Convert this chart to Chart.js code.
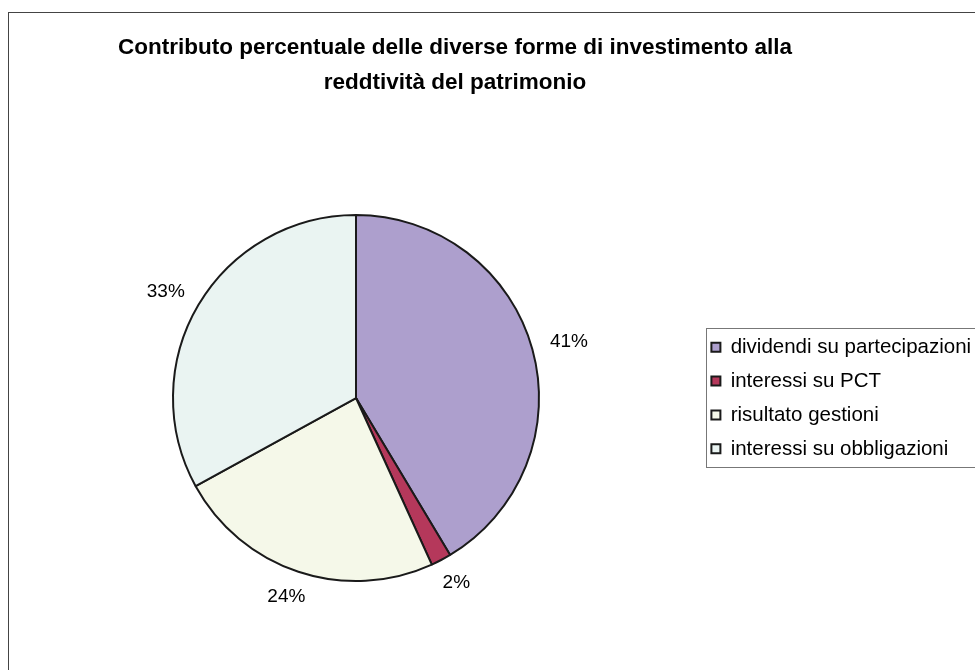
<!DOCTYPE html>
<html>
<head>
<meta charset="utf-8">
<script src="https://cdn.jsdelivr.net/npm/chart.js@4.4.0/dist/chart.umd.min.js"></script>
<style>
html, body { margin: 0; padding: 0; background: #fff; overflow: hidden; }
#frame { position: absolute; left: 8px; top: 12px; width: 1000px; height: 700px; border-left: 1px solid #444; border-top: 1px solid #444; }
#myCanvas { position: absolute; left: 0; top: 0; }
</style>
</head>
<body>
<div id="frame"></div>
<canvas id="myCanvas" width="975" height="670"></canvas>
<script>
// chart data
var categories = ['dividendi su partecipazioni', 'interessi su PCT', 'risultato gestioni', 'interessi su obbligazioni'];
var values = [41.4, 1.8, 23.8, 33.0];
var slice_colors = ['#ad9fcd', '#b5385b', '#f5f8e9', '#eaf4f2'];
var title_lines = ['Contributo percentuale delle diverse forme di investimento alla', 'reddtività del patrimonio'];

var font_family = '"Liberation Sans", Arial, Helvetica, sans-serif';

// percentage labels outside the slices, plus the frame round the legend
var pieExtras = {
    id: 'pieExtras',
    afterLayout: function(chart) {
        // legend text runs past the right edge, like the original, so don't clip it
        chart.legend.right = chart.width + 40;
    },
    afterDatasetsDraw: function(chart) {
        var ctx = chart.ctx;
        var meta = chart.getDatasetMeta(0);
        var total = values.reduce(function(a, b) { return a + b }, 0);
        ctx.save();
        ctx.font = '19px ' + font_family;
        ctx.fillStyle = '#000';
        ctx.textBaseline = 'middle';
        ctx.textAlign = 'center';
        meta.data.forEach(function(arc, i) {
            var mid = (arc.startAngle + arc.endAngle) / 2;
            var c = Math.cos(mid);
            var s = Math.sin(mid);
            var txt = Math.round(values[i] / total * 100) + '%';
            var w = ctx.measureText(txt).width;
            var h = 14;
            var rr = arc.outerRadius + 19;
            var x = arc.x + c * rr + c * w / 2;
            var y = arc.y + s * rr + s * h / 2;
            ctx.fillText(txt, x, y);
        });
        ctx.restore();
    },
    afterDraw: function(chart) {
        var boxes = chart.legend.legendHitBoxes;
        if (!boxes || !boxes.length) return;
        var first = boxes[0];
        var last = boxes[boxes.length - 1];
        var ctx = chart.ctx;
        ctx.save();
        ctx.strokeStyle = '#777';
        ctx.lineWidth = 1;
        var top = Math.round(first.top - 9) + 0.5;
        var bottom = Math.round(last.top + last.height + 8) + 0.5;
        var left = Math.round(first.left - 5) + 0.5;
        ctx.strokeRect(left, top, chart.width + 20 - left, bottom - top);
        ctx.restore();
    }
};

var myChart = new Chart(document.getElementById('myCanvas'), {
    type: 'pie',
    data: {
        labels: categories,
        datasets: [{
            data: values,
            backgroundColor: slice_colors,
            borderColor: '#1a1a1a',
            borderWidth: 2,
            radius: 183,
            hoverOffset: 0
        }]
    },
    options: {
        responsive: false,
        animation: false,
        layout: {
            padding: { left: 14, right: 79, top: 0, bottom: 0 }
        },
        plugins: {
            title: {
                display: true,
                text: title_lines,
                color: '#000',
                font: { family: font_family, size: 22.5, weight: 'bold', lineHeight: 1.556 },
                padding: { top: 30.5, bottom: 25.5 }
            },
            legend: {
                display: true,
                position: 'right',
                fullSize: false,
                maxWidth: 198,
                onClick: null,
                labels: {
                    color: '#000',
                    font: { family: font_family, size: 20.5 },
                    boxWidth: 9,
                    boxHeight: 9,
                    padding: 13.4
                }
            },
            tooltip: { enabled: false }
        }
    },
    plugins: [pieExtras]
});
</script>
</body>
</html>
